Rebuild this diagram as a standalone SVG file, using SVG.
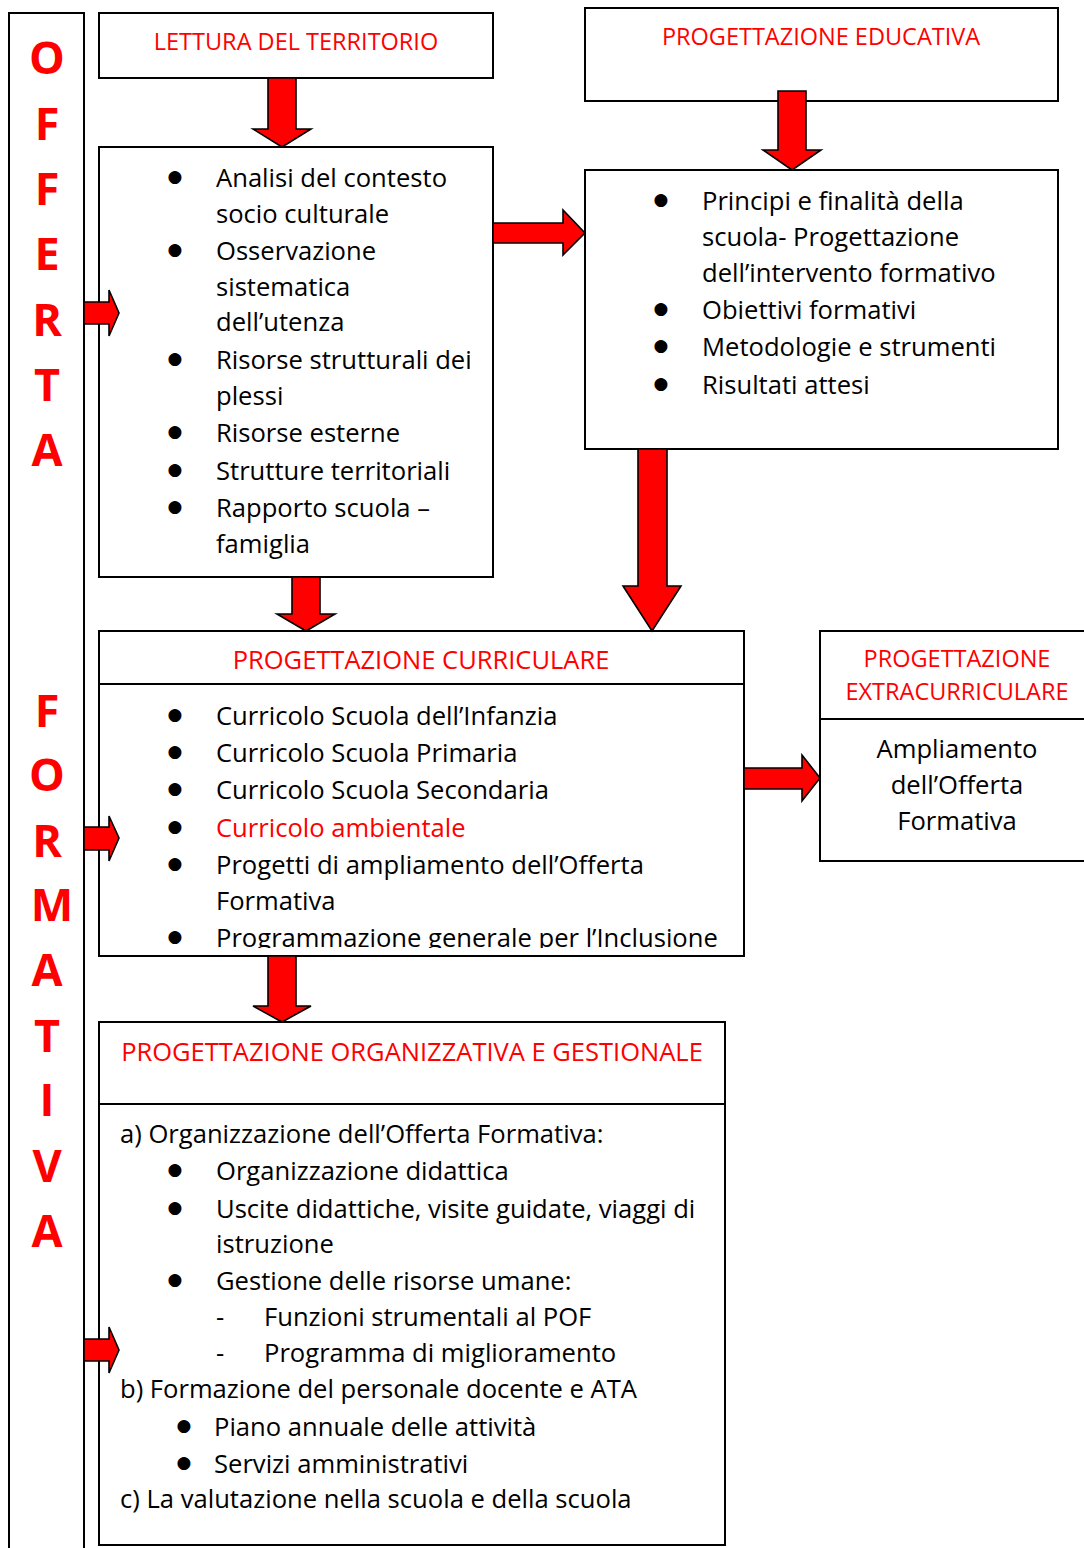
<svg xmlns="http://www.w3.org/2000/svg" width="1084" height="1548" viewBox="0 0 1084 1548">
<style>
.box{fill:#fff;stroke:#000;stroke-width:2}
.ln{stroke:#000;stroke-width:2}
.arr{fill:#ff0000;stroke:#000;stroke-width:1.6;stroke-linejoin:miter}
.t{font-family:"Open Sans","Liberation Sans",sans-serif;font-size:25.6px;fill:#000}
.b{font-family:"DejaVu Sans",sans-serif;font-size:17px;fill:#000;text-anchor:middle}
.r{fill:#ff0000}
.h{font-family:"Open Sans","Liberation Sans",sans-serif;font-size:23.5px;fill:#ff0000;text-anchor:middle}
.hw{font-size:25.5px}
.big{font-family:"Open Sans","Liberation Sans",sans-serif;font-size:45px;font-weight:bold;fill:#ff0000;text-anchor:middle}
.c{text-anchor:middle}
</style>
<defs>
<clipPath id="cc"><rect x="100" y="685" width="643" height="263"/></clipPath>
</defs>
<rect width="1084" height="1548" fill="#fff"/>

<g id="offerta-formativa">
<rect class="box" x="9" y="13" width="75" height="1560"/>
<text class="big" x="47" y="74">O</text>
<text class="big" x="47" y="140">F</text>
<text class="big" x="47" y="205">F</text>
<text class="big" x="47" y="270">E</text>
<text class="big" x="47" y="336">R</text>
<text class="big" x="47" y="401">T</text>
<text class="big" x="47" y="466">A</text>
<text class="big" x="47" y="727">F</text>
<text class="big" x="47" y="791">O</text>
<text class="big" x="47" y="857">R</text>
<text class="big" x="52" y="921">M</text>
<text class="big" x="47" y="986">A</text>
<text class="big" x="47" y="1052">T</text>
<text class="big" x="47" y="1116">I</text>
<text class="big" x="47" y="1182">V</text>
<text class="big" x="47" y="1247">A</text>
</g>

<g id="lettura">
<rect class="box" x="99" y="13" width="394" height="65"/>
<text class="h" x="296" y="50">LETTURA DEL TERRITORIO</text>
</g>

<g id="prog-educativa">
<rect class="box" x="585" y="8" width="473" height="93"/>
<text class="h" x="821" y="45">PROGETTAZIONE EDUCATIVA</text>
</g>

<g id="analisi">
<rect class="box" x="99" y="147" width="394" height="430"/>
<g class="t">
<text x="175" y="182" class="b">●</text><text x="216" y="187">Analisi del contesto</text>
<text x="216" y="223">socio culturale</text>
<text x="175" y="255" class="b">●</text><text x="216" y="260">Osservazione</text>
<text x="216" y="296">sistematica</text>
<text x="216" y="331">dell’utenza</text>
<text x="175" y="364" class="b">●</text><text x="216" y="369">Risorse strutturali dei</text>
<text x="216" y="405">plessi</text>
<text x="175" y="437" class="b">●</text><text x="216" y="442">Risorse esterne</text>
<text x="175" y="475" class="b">●</text><text x="216" y="480">Strutture territoriali</text>
<text x="175" y="512" class="b">●</text><text x="216" y="517">Rapporto scuola –</text>
<text x="216" y="553">famiglia</text>
</g>
</g>

<g id="principi">
<rect class="box" x="585" y="170" width="473" height="279"/>
<g class="t">
<text x="661" y="205" class="b">●</text><text x="702" y="210">Principi e finalità della</text>
<text x="702" y="246">scuola- Progettazione</text>
<text x="702" y="282">dell’intervento formativo</text>
<text x="661" y="314" class="b">●</text><text x="702" y="319">Obiettivi formativi</text>
<text x="661" y="351" class="b">●</text><text x="702" y="356">Metodologie e strumenti</text>
<text x="661" y="389" class="b">●</text><text x="702" y="394">Risultati attesi</text>
</g>
</g>

<g id="prog-curricolare">
<rect class="box" x="99" y="631" width="645" height="325"/>
<line class="ln" x1="99" y1="684" x2="744" y2="684"/>
<text class="h hw" x="421" y="669">PROGETTAZIONE CURRICULARE</text>
<g class="t" clip-path="url(#cc)">
<text x="175" y="720" class="b">●</text><text x="216" y="725">Curricolo Scuola dell’Infanzia</text>
<text x="175" y="757" class="b">●</text><text x="216" y="762">Curricolo Scuola Primaria</text>
<text x="175" y="794" class="b">●</text><text x="216" y="799">Curricolo Scuola Secondaria</text>
<text x="175" y="832" class="b">●</text><text x="216" y="837" class="r">Curricolo ambientale</text>
<text x="175" y="869" class="b">●</text><text x="216" y="874">Progetti di ampliamento dell’Offerta</text>
<text x="216" y="910">Formativa</text>
<text x="175" y="942" class="b">●</text><text x="216" y="947">Programmazione generale per l’Inclusione</text>
</g>
</g>

<g id="prog-extracurricolare">
<rect class="box" x="820" y="631" width="280" height="230"/>
<line class="ln" x1="820" y1="719" x2="1090" y2="719"/>
<text class="h" x="957" y="667">PROGETTAZIONE</text>
<text class="h" x="957" y="700">EXTRACURRICULARE</text>
<g class="t">
<text x="957" y="758" class="c">Ampliamento</text>
<text x="957" y="794" class="c">dell’Offerta</text>
<text x="957" y="830" class="c">Formativa</text>
</g>
</g>

<g id="prog-organizzativa">
<rect class="box" x="99" y="1022" width="626" height="523"/>
<line class="ln" x1="99" y1="1104" x2="725" y2="1104"/>
<text class="h hw" x="412" y="1061">PROGETTAZIONE ORGANIZZATIVA E GESTIONALE</text>
<g class="t">
<text x="120" y="1143">a) Organizzazione dell’Offerta Formativa:</text>
<text x="175" y="1175" class="b">●</text><text x="216" y="1180">Organizzazione didattica</text>
<text x="175" y="1213" class="b">●</text><text x="216" y="1218">Uscite didattiche, visite guidate, viaggi di</text>
<text x="216" y="1253">istruzione</text>
<text x="175" y="1285" class="b">●</text><text x="216" y="1290">Gestione delle risorse umane:</text>
<text x="220" y="1326" class="c">-</text><text x="264" y="1326">Funzioni strumentali al POF</text>
<text x="220" y="1362" class="c">-</text><text x="264" y="1362">Programma di miglioramento</text>
<text x="120" y="1398">b) Formazione del personale docente e ATA</text>
<text x="184" y="1431" class="b">●</text><text x="214" y="1436">Piano annuale delle attività</text>
<text x="184" y="1468" class="b">●</text><text x="214" y="1473">Servizi amministrativi</text>
<text x="120" y="1508">c) La valutazione nella scuola e della scuola</text>
</g>
</g>

<g id="connectors">
<polygon class="arr" points="268,78 296,78 296,129 311,129 282,147 253,129 268,129"/>
<polygon class="arr" points="778,91 806,91 806,150 821,150 792,170 763,150 778,150"/>
<polygon class="arr" points="493,223 563,223 563,210 585,233 563,255 563,243 493,243"/>
<polygon class="arr" points="638,449 667,449 667,586 681,586 652,631 623,586 638,586"/>
<polygon class="arr" points="292,577 320,577 320,614 335,614 306,631 277,614 292,614"/>
<polygon class="arr" points="744,768 802,768 802,755 820,778 802,801 802,789 744,789"/>
<polygon class="arr" points="268,956 296,956 296,1006 311,1006 282,1022 253,1006 268,1006"/>
<polygon class="arr" points="84,302 109,302 109,290 119,313 109,336 109,324 84,324"/>
<polygon class="arr" points="84,827 109,827 109,816 119,838 109,861 109,850 84,850"/>
<polygon class="arr" points="84,1339 109,1339 109,1327 119,1350 109,1373 109,1361 84,1361"/>
</g>
</svg>
